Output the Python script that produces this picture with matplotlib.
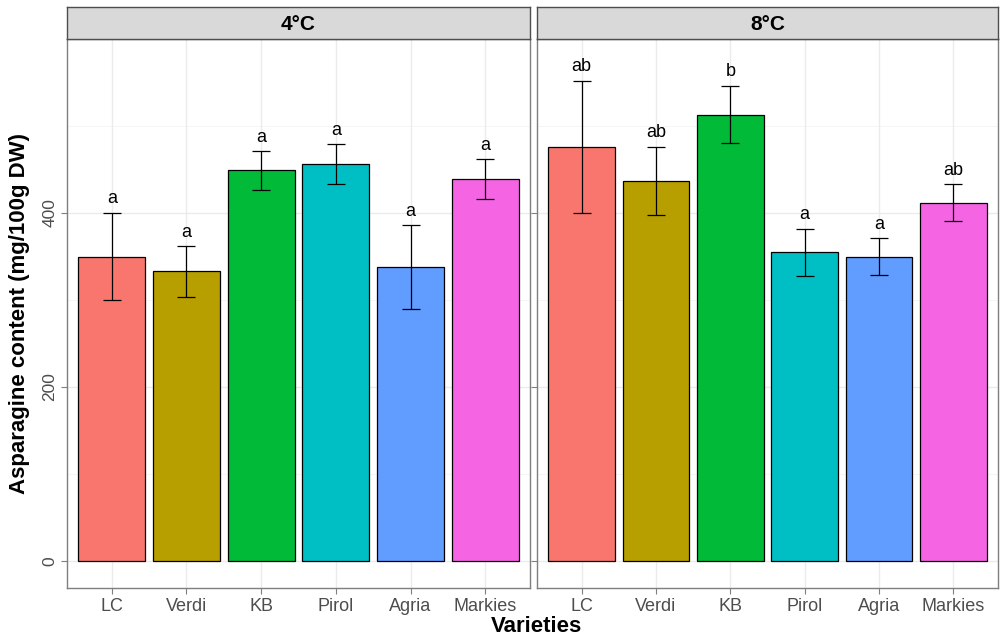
import numpy as np
import matplotlib
matplotlib.use("Agg")
import matplotlib.pyplot as plt

plt.rcParams['font.family'] = ['Liberation Sans', 'DejaVu Sans']

varieties = ["LC", "Verdi", "KB", "Pirol", "Agria", "Markies"]
temps = ["4°C", "8°C"]
means_4 = [350, 333, 449, 456, 338, 439]
se_4 = [50, 29, 22, 23, 48, 23]
letters_4 = ["a", "a", "a", "a", "a", "a"]
means_8 = [476, 437, 513, 355, 350, 412]
se_8 = [76, 39, 33, 27, 21, 21]
letters_8 = ["ab", "ab", "b", "a", "a", "ab"]
colors = ["#F8766D", "#B79F00", "#00BA38", "#00BFC4", "#619CFF", "#F564E3"]

W, H = 1000, 638
fig = plt.figure(figsize=(W / 100, H / 100), dpi=100)

panels = [(67, 530), (537, 998)]
top_px, bot_px, strip_px = 39, 588, 32
data = [(means_4, se_4, letters_4), (means_8, se_8, letters_8)]

x = np.arange(1, len(varieties) + 1)
for i, ((x0, x1), (m, se, lt), t) in enumerate(zip(panels, data, temps)):
    ax = fig.add_axes([x0 / W, 1 - bot_px / H, (x1 - x0) / W, (bot_px - top_px) / H])
    ax.set_axisbelow(True)
    for y in [0, 200, 400]:
        ax.axhline(y, color="#EBEBEB", lw=1.0, zorder=0)
    for y in [100, 300, 500]:
        ax.axhline(y, color="#F4F4F4", lw=0.6, zorder=0)
    for xi in x:
        ax.axvline(xi, color="#EBEBEB", lw=1.0, zorder=0)
    ax.bar(x, m, width=0.9, color=colors, edgecolor="black", linewidth=0.9, zorder=2)
    ax.errorbar(x, m, yerr=se, fmt="none", ecolor="black", elinewidth=0.9,
                capsize=6.5, capthick=0.9, zorder=3)
    for xi, mi, si, l in zip(x, m, se, lt):
        ax.annotate(l, xy=(xi, mi + si), xytext=(0, 4), textcoords="offset points",
                    ha="center", va="bottom", fontsize=13, zorder=4)
    ax.set_xlim(0.4, 6.6)
    ax.set_ylim(-31, 600)
    ax.set_xticks(x)
    ax.set_xticklabels(varieties, fontsize=13, color="#4D4D4D")
    ax.set_yticks([0, 200, 400])
    if i == 0:
        ax.set_yticklabels(["0", "200", "400"], fontsize=12.5, color="#4D4D4D",
                           rotation=90, va="center")
    else:
        ax.set_yticklabels([])
        ax.tick_params(axis="y", length=0)
    ax.tick_params(axis="both", color="#7F7F7F", length=4, width=0.8, pad=3)
    for s in ax.spines.values():
        s.set_color("#7F7F7F")
        s.set_linewidth(1.0)

    sax = fig.add_axes([x0 / W, 1 - top_px / H, (x1 - x0) / W, strip_px / H])
    sax.set_facecolor("#D9D9D9")
    sax.set_xticks([])
    sax.set_yticks([])
    for s in sax.spines.values():
        s.set_color("#4D4D4D")
        s.set_linewidth(1.0)
    sax.text(0.5, 0.45, t, transform=sax.transAxes, ha="center", va="center",
             fontsize=15, fontweight="bold")

fig.text(536 / W, 1 - 626 / H, "Varieties", ha="center", va="center",
         fontsize=16, fontweight="bold")
fig.text(20 / W, 1 - 313 / H, "Asparagine content (mg/100g DW)", ha="center",
         va="center", rotation=90, fontsize=16, fontweight="bold")

fig.savefig("out.png", dpi=100)
